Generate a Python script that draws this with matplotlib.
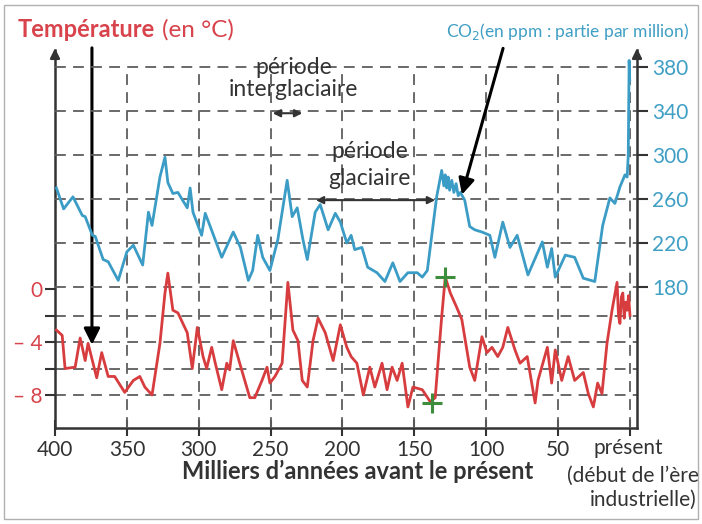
import matplotlib.pyplot as plt
from matplotlib.patches import Rectangle

plt.rcParams['font.family'] = ['Lato', 'DejaVu Sans']
plt.rcParams['mathtext.fontset'] = 'custom'
plt.rcParams['mathtext.rm'] = 'Liberation Sans Narrow'

# CO2 (ppm), age in thousands of years before present
co2_age = [399, 394, 387.5, 381, 379, 374, 372, 366.5, 363, 356, 350, 345.5, 339, 335, 332.5,
           327, 323.5, 321.5, 318, 314.5, 308, 306, 304, 298, 295.5, 292, 284, 276, 271, 265.5,
           262.5, 259, 255.5, 250.5, 245, 238.5, 235, 231.5, 227.5, 224.5, 219, 215.5, 210, 205,
           201.5, 197, 194, 191.5, 186.5, 182.5, 176, 170.5, 165, 160, 154.5, 148, 144.5, 141,
           134.5, 131, 129.5, 128.5, 127.5, 126.5, 125.5, 124, 122.5, 121, 119.5, 118, 115, 111.5,
           108, 103, 97.5, 94, 88.5, 83.5, 78.5, 71, 61, 57.5, 54.5, 52, 45, 38.5, 32.5, 24.5, 19,
           14, 10.5, 7, 3.5, 2, 1.2, 0.6, 0.2]
co2_ppm = [270, 251, 262, 245, 244, 227, 226, 205, 203, 186, 212, 218, 200, 248, 236,
           280, 298, 275, 265, 266, 252, 270, 248, 227, 247, 235, 207, 230, 216, 186,
           195, 227, 207, 195, 223, 277, 244, 252, 223, 205, 248, 255, 232, 247,
           239, 220, 227, 214, 216, 198, 193, 185, 202, 185, 193, 193, 189, 195,
           262, 286, 272, 282, 270, 280, 268, 277, 266, 274, 263, 266, 259, 235,
           232, 230, 227, 207, 239, 216, 227, 191, 221, 198, 215, 189, 209, 207, 188, 185, 236,
           261, 256, 271, 282, 280, 300, 386, 368]

# temperature anomaly (°C)
temp_age = [399, 395, 393, 386, 382.5, 379, 377, 371, 367.5, 363, 358.5, 351.5, 345.5, 341, 337.5,
            332.5, 327, 323.5, 321.5, 318, 314.5, 308, 304.5, 301, 297, 294.5, 291, 288.5, 284,
            280.5, 278.5, 276, 271.5, 264.5, 261, 256, 252.5, 250.5, 247, 242, 238, 234.5, 231,
            228, 224.5, 220.5, 217, 212, 206.5, 201.5, 197, 194, 190, 185.5, 181, 177.5, 172.5,
            169, 165.5, 162, 158.5, 154.5, 151, 144.5, 139, 135.5, 131, 128.5, 125, 120.5, 117,
            111.5, 108, 103, 99.5, 96, 92, 88.5, 85, 80, 76.5, 71.5, 66, 64, 57.5, 54.5, 52, 47.5,
            43, 38.5, 32.5, 29, 25.5, 22.5, 19.5, 16, 12.5, 9, 8, 7, 6, 5, 4, 3, 2, 1, 0]
temp_c = [-3.1, -3.5, -6.0, -5.9, -3.7, -5.4, -4.1, -6.7, -4.8, -6.6, -6.6, -7.8, -6.9, -6.6, -7.4,
          -8.0, -4.1, -0.3, 1.2, -1.6, -1.8, -3.3, -6.0, -2.9, -5.1, -6.0, -4.4, -5.6, -7.6,
          -5.6, -6.1, -3.9, -5.6, -8.2, -8.2, -6.9, -5.9, -7.1, -6.6, -5.6, 0.5, -3.1, -3.9,
          -6.9, -7.4, -3.9, -2.2, -3.3, -5.4, -2.7, -4.4, -5.1, -5.6, -8.0, -5.9, -7.4, -5.6,
          -7.6, -5.9, -6.9, -5.6, -8.9, -7.4, -7.6, -8.5, -8.2, -2.1, 0.9, -0.3, -1.4, -2.3,
          -5.9, -6.9, -3.6, -4.8, -4.4, -5.1, -4.4, -2.9, -4.6, -5.6, -5.1, -8.6, -6.9, -4.4, -7.1,
          -4.6, -6.9, -5.1, -6.9, -6.3, -7.9, -8.9, -7.1, -7.9, -4.1, -1.6, 0.5, -2.0, -2.6, -0.6,
          -0.3, -2.2, -1.0, -1.6, -0.5, -2.0]

# green marks (start / end of the warming)
mark_age = [128.5, 137.5]
mark_temp = [0.9, -8.6]

x_ticks = [400, 350, 300, 250, 200, 150, 100, 50, 0]
x_labels = ['400', '350', '300', '250', '200', '150', '100', '50', '']
temp_ticks = [0, -4, -8]
temp_labels = ['0', '– 4', '– 8']
temp_minor = [-2, -6]
co2_ticks = [180, 220, 260, 300, 340, 380]

RED = '#d73c3f'
RED_TXT = '#d8434c'
BLUE = '#3b9cc6'
BLUE_TXT = '#3f9fc4'
DARK = '#333333'
GRID = '#5e5e5e'
NARROW = ['Liberation Sans Narrow', 'Lato', 'DejaVu Sans']

W, H = 702, 524


def px(x, y):
    return x / W, 1 - y / H


fig = plt.figure(figsize=(W / 100, H / 100), dpi=100)
ax = fig.add_axes([55 / W, 96 / H, 582 / W, 378 / H])
ax2 = ax.twinx()

xmin, xmax = 400, -4.87
ax.set_xlim(xmin, xmax)
ax.set_ylim(-10.49, 18.04)
ax2.set_ylim(51.8, 395.5)

# dashed grid
grid_kw = dict(color=GRID, lw=1.3, linestyles=(0, (6, 4)))
ax.hlines(temp_minor + temp_ticks[1:], xmin, xmax, **grid_kw)
ax2.hlines(co2_ticks, xmin, xmax, zorder=1, **grid_kw)
ax2.vlines(x_ticks[1:], 51.8, 380, zorder=1, **grid_kw)

# curves
ax2.plot(co2_age, co2_ppm, color=BLUE, lw=2.0, zorder=3)
ax2.plot(temp_age, temp_c, color=RED, lw=2.0, zorder=3, transform=ax.transData)
ax2.plot(mark_age, mark_temp, '+', color='#3d8d3d', ms=15, mew=2.2, zorder=4,
         transform=ax.transData)

# spines
for a in (ax, ax2):
    a.spines['top'].set_visible(False)
    for s in a.spines.values():
        s.set_color(DARK)
        s.set_linewidth(1.8)
ax.spines['right'].set_visible(False)
ax2.spines['left'].set_visible(False)
ax2.spines['bottom'].set_visible(False)

ax.set_xticks(x_ticks, x_labels)
ax.tick_params(axis='x', direction='inout', length=12, width=1.5, color=DARK,
               labelsize=15, labelcolor=DARK, pad=3)
ax.set_yticks(temp_ticks, temp_labels)
ax.set_yticks(temp_minor, minor=True)
ax.tick_params(axis='y', which='both', direction='out', length=7, width=1.5, color=DARK,
               labelsize=15, labelcolor=RED_TXT, pad=2)
ax2.set_yticks(co2_ticks)
ax2.tick_params(axis='y', direction='out', length=8, width=1.5, color=DARK,
                labelsize=15, labelcolor=BLUE_TXT, pad=3)

# arrow heads on top of the vertical axes
for xf in (0, 1):
    ax.annotate('', xy=(xf, 1.012), xytext=(xf, 0.97), xycoords='axes fraction',
                arrowprops=dict(arrowstyle='-|>', color=DARK, lw=1.8, mutation_scale=14))

# titles
fig.text(*px(18, 37), 'Température', color=RED_TXT, fontsize=17, fontweight='bold',
         va='baseline')
fig.text(*px(162, 37), '(en °C)', color=RED_TXT, fontsize=17.5, va='baseline', family=NARROW)
fig.text(*px(689, 37), r'CO$_\mathrm{2}$(en ppm : partie par million)', color=BLUE_TXT,
         fontsize=12.5, ha='right', va='baseline', family=NARROW)

# x axis texts
fig.text(*px(358, 471), 'Milliers d’années avant le présent', color=DARK, fontsize=17,
         fontweight='bold', ha='center', va='center')
fig.text(*px(628, 448), 'présent', color=DARK, fontsize=15, ha='center', va='center')
fig.text(*px(633, 476), '(début de l’ère', color=DARK, fontsize=15, ha='center', va='center')
fig.text(*px(643, 500), 'industrielle)', color=DARK, fontsize=15, ha='center', va='center')

# periods
fig.text(*px(294, 67), 'période', color=DARK, fontsize=16.5, ha='center', va='center')
fig.text(*px(293, 89), 'interglaciaire', color=DARK, fontsize=16.5, ha='center', va='center')
fig.text(*px(370, 151), 'période', color=DARK, fontsize=16.5, ha='center', va='center')
fig.text(*px(369, 178), 'glaciaire', color=DARK, fontsize=16.5, ha='center', va='center')
ax2.annotate('', xy=(250.5, 338), xytext=(226, 338),
             arrowprops=dict(arrowstyle='<|-|>', color=DARK, lw=1.5, mutation_scale=11))
ax2.annotate('', xy=(220.5, 259), xytext=(133.6, 259),
             arrowprops=dict(arrowstyle='<|-|>', color=DARK, lw=1.5, mutation_scale=11))

# black pointers
ax.annotate('', xy=(374.3, -4.2), xytext=(374.3, 18.2), annotation_clip=False,
            arrowprops=dict(arrowstyle='-|>', color='black', lw=2.2, mutation_scale=24,
                            shrinkA=0, shrinkB=0))
ax2.annotate('', xy=(116.9, 264), xytext=(88.3, 397), annotation_clip=False,
             arrowprops=dict(arrowstyle='-|>', color='black', lw=2.2, mutation_scale=24,
                             shrinkA=0, shrinkB=0))

# scan border
fig.patches.append(Rectangle((4 / W, 5 / H), 694 / W, 514 / H, transform=fig.transFigure,
                             fill=False, ec='#b0b0b0', lw=1))

fig.savefig('out.png', dpi=100)
